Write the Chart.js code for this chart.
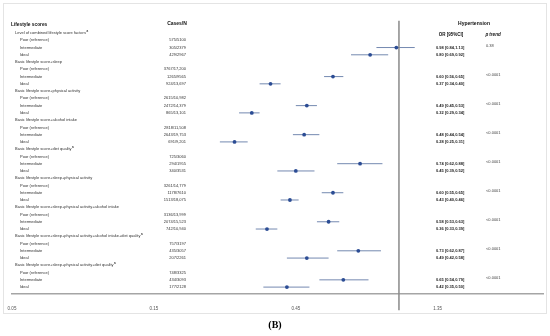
<!DOCTYPE html>
<html>
<head>
<meta charset="utf-8">
<script src="https://cdn.jsdelivr.net/npm/chart.js@4.4.1/dist/chart.umd.min.js"></script>
<style>
  html, body { margin: 0; padding: 0; background: #fff; }
  #wrap { width: 550px; height: 336px; }
</style>
</head>
<body>
<div id="wrap"><canvas id="forest" width="550" height="336"></canvas></div>
<script>
const groupNames = [
  "Level of combined lifestyle score factors",
  "Basic lifestyle score+sleep",
  "Basic lifestyle score+physical activity",
  "Basic lifestyle score+alcohol intake",
  "Basic lifestyle score+diet quality",
  "Basic lifestyle score+sleep+physical activity",
  "Basic lifestyle score+sleep+physical activity+alcohol intake",
  "Basic lifestyle score+sleep+physical activity+alcohol intake+diet quality",
  "Basic lifestyle score+sleep+physical activity+diet quality"
];
const groupMarks = ["a", "", "", "", "a", "", "", "a", "a"];
const levels = ["Poor (reference)", "Intermediate", "Ideal"];

const cases = [
  ["575/5100", "305/2379", "429/2967"],
  ["3767/17,200", "1265/9565", "924/13,697"],
  ["2615/10,982", "2472/14,379", "865/13,101"],
  ["2818/11,508", "2643/19,753", "691/9,201"],
  ["725/3060", "294/1955", "340/3531"],
  ["3261/14,779", "1178/7610", "1513/18,075"],
  ["3136/13,999", "2074/15,523", "742/10,940"],
  ["757/3197", "435/3057", "207/2261"],
  ["748/3325", "434/3093", "177/2128"]
];

const midOR = [0.98, 0.60, 0.49, 0.48, 0.74, 0.60, 0.58, 0.73, 0.65];
const midLo = [0.84, 0.56, 0.45, 0.44, 0.62, 0.55, 0.53, 0.62, 0.54];
const midHi = [1.13, 0.65, 0.53, 0.54, 0.88, 0.65, 0.63, 0.87, 0.79];
const idealOR = [0.80, 0.37, 0.32, 0.28, 0.45, 0.43, 0.36, 0.49, 0.42];
const idealLo = [0.69, 0.34, 0.29, 0.25, 0.39, 0.40, 0.33, 0.42, 0.35];
const idealHi = [0.92, 0.40, 0.34, 0.31, 0.52, 0.46, 0.39, 0.58, 0.50];
const pTrend = ["0.38", "<0.0001", "<0.0001", "<0.0001", "<0.0001", "<0.0001", "<0.0001", "<0.0001", "<0.0001"];

const xTicks = [0.05, 0.15, 0.45, 1.35];

const FONT = "'Liberation Sans', Arial, sans-serif";

// each group: header row + 3 level rows
const rowOf = (g, level) => g * 4 + 1 + level;

function ciLine(lo, hi, r) {
  return {
    data: [{ x: lo, y: r }, { x: hi, y: r }],
    showLine: true,
    borderColor: "#7489b0",
    borderWidth: 1,
    pointRadius: 0
  };
}

const points = [];
const ciSets = [];
groupNames.forEach((_, g) => {
  points.push({ x: midOR[g], y: rowOf(g, 1) });
  points.push({ x: idealOR[g], y: rowOf(g, 2) });
  ciSets.push(ciLine(midLo[g], midHi[g], rowOf(g, 1)));
  ciSets.push(ciLine(idealLo[g], idealHi[g], rowOf(g, 2)));
});

const tablePlugin = {
  id: "table",
  beforeDraw(chart) {
    const ctx = chart.ctx;
    ctx.save();
    ctx.fillStyle = "#fff";
    ctx.fillRect(0, 0, chart.width, chart.height);
    ctx.strokeStyle = "#e4e4e4";
    ctx.lineWidth = 1;
    ctx.strokeRect(3.5, 3.5, 543, 310);
    ctx.restore();
  },
  afterDraw(chart) {
    const ctx = chart.ctx;
    const y = chart.scales.y;
    ctx.save();
    ctx.textBaseline = "middle";

    ctx.fillStyle = "#111";
    ctx.font = "bold 4.8px " + FONT;
    ctx.textAlign = "left";
    ctx.fillText("Lifestyle scores", 11, 25);
    ctx.font = "bold 5px " + FONT;
    ctx.textAlign = "center";
    ctx.fillText("Cases/N", 177, 24);
    ctx.fillText("Hypertension", 474, 24);
    ctx.font = "bold 4.5px " + FONT;
    ctx.fillText("OR [95%CI]", 451, 35);
    ctx.font = "bold italic 4.5px " + FONT;
    ctx.fillText("p trend", 493, 35);

    groupNames.forEach((name, g) => {
      const gy = y.getPixelForValue(g * 4);
      ctx.fillStyle = "#333";
      ctx.font = "4px " + FONT;
      ctx.textAlign = "left";
      ctx.fillText(name, 15, gy);
      if (groupMarks[g]) {
        const w = ctx.measureText(name).width;
        ctx.font = "bold 3px " + FONT;
        ctx.fillText(groupMarks[g], 15.5 + w, gy - 2);
      }
      levels.forEach((lv, i) => {
        const ry = y.getPixelForValue(rowOf(g, i));
        ctx.font = "4px " + FONT;
        ctx.textAlign = "left";
        ctx.fillStyle = "#333";
        ctx.fillText(lv, 20, ry);
        ctx.textAlign = "right";
        ctx.fillText(cases[g][i], 186, ry);
      });
      const my = y.getPixelForValue(rowOf(g, 1));
      const iy = y.getPixelForValue(rowOf(g, 2));
      ctx.textAlign = "left";
      ctx.fillStyle = "#222";
      ctx.font = "bold 4px " + FONT;
      ctx.fillText(midOR[g].toFixed(2) + " [" + midLo[g].toFixed(2) + "," + midHi[g].toFixed(2) + "]", 436, my);
      ctx.fillText(idealOR[g].toFixed(2) + " [" + idealLo[g].toFixed(2) + "," + idealHi[g].toFixed(2) + "]", 436, iy);
      ctx.font = "4px " + FONT;
      ctx.fillStyle = "#444";
      ctx.fillText(pTrend[g], 486, my - 2);
    });

    ctx.fillStyle = "#000";
    ctx.textAlign = "center";
    ctx.font = "bold 10px 'Liberation Serif', 'Times New Roman', serif";
    ctx.fillText("(B)", 275, 325);
    ctx.restore();
  }
};

new Chart(document.getElementById("forest"), {
  type: "scatter",
  data: {
    datasets: [
      {
        data: points,
        pointRadius: 1.9,
        pointBackgroundColor: "#2b4c94",
        pointBorderWidth: 0
      },
      {
        data: [{ x: 1, y: -1.7 }, { x: 1, y: 38.2 }],
        showLine: true,
        clip: false,
        borderColor: "#8a8a8a",
        borderWidth: 1.5,
        pointRadius: 0
      },
      ...ciSets
    ]
  },
  options: {
    responsive: false,
    devicePixelRatio: 1,
    animation: false,
    layout: { padding: { left: 12, right: 7, top: 18, bottom: 0 } },
    plugins: { legend: { display: false }, tooltip: { enabled: false } },
    scales: {
      x: {
        type: "logarithmic",
        min: 0.05,
        max: 3.05,
        afterBuildTicks(scale) {
          scale.ticks = xTicks.map(v => ({ value: v }));
        },
        afterFit(scale) {
          scale.height = 42;
        },
        grid: { display: false },
        border: { display: true, color: "#a5a5a5", width: 1.5 },
        ticks: {
          autoSkip: false,
          maxRotation: 0,
          padding: 4,
          color: "#555",
          font: { size: 4.5, family: FONT },
          callback: v => Number(v).toFixed(2)
        }
      },
      y: {
        type: "linear",
        display: false,
        reverse: true,
        min: -2.07,
        max: 35.95
      }
    }
  },
  plugins: [tablePlugin]
});
</script>
</body>
</html>
